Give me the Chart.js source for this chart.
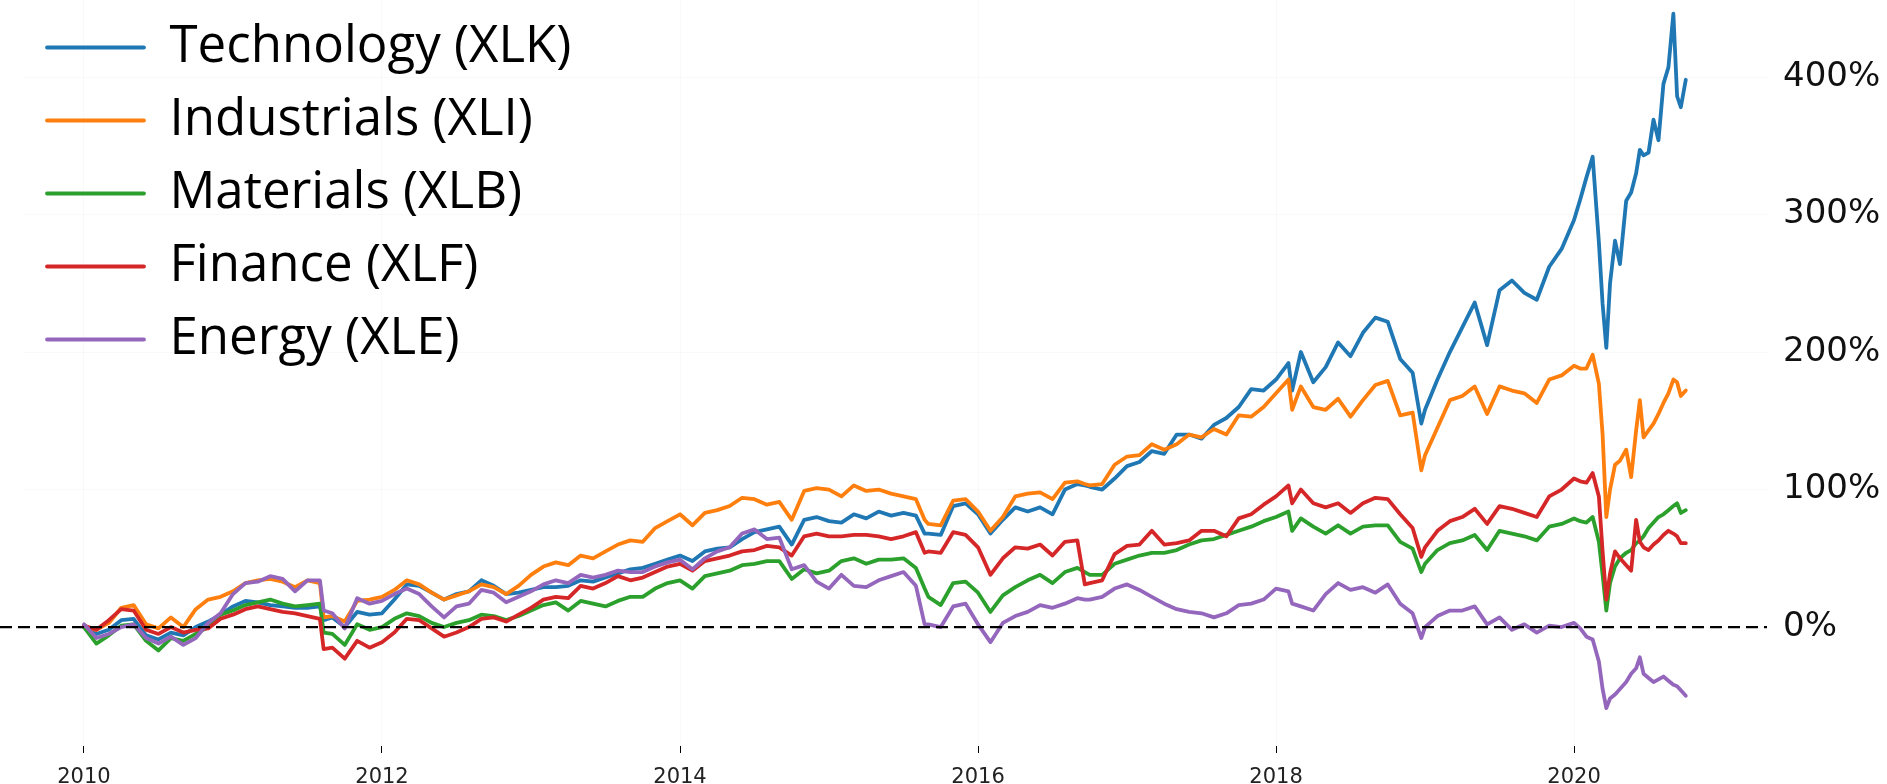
<!DOCTYPE html>
<html>
<head>
<meta charset="utf-8">
<title>Sector ETF cumulative returns</title>
<script src="https://cdn.jsdelivr.net/npm/chart.js@4.4.1/dist/chart.umd.min.js"></script>
<style>
  html, body { margin: 0; padding: 0; background: #fff; }
  #wrap { width: 1887px; height: 784px; }
</style>
</head>
<body>
<div id="wrap"><canvas id="chart" width="1887" height="784"></canvas></div>
<script>
// months since Jan 2010 (extra points sit on the sharp moves)
const months = [
  0, 1, 2, 3, 4, 5, 6, 7, 8, 9, 10, 11,
  12, 13, 14, 15, 16, 17, 18, 19, 19.3, 20, 21, 22, 23,
  24, 25, 26, 27, 28, 29, 30, 31, 32, 33, 34, 35,
  36, 37, 38, 39, 40, 41, 42, 43, 44, 45, 46, 47,
  48, 49, 50, 51, 52, 53, 54, 55, 56, 57, 58, 59,
  60, 61, 62, 63, 64, 65, 66, 67, 67.7, 68, 69, 70, 71,
  72, 73, 74, 75, 76, 77, 78, 79, 80, 80.6, 81, 82, 83,
  84, 85, 86, 87, 88, 89, 90, 91, 92, 93, 94, 95,
  96, 97, 97.3, 98, 99, 100, 101, 102, 103, 104, 105, 106, 107, 107.7,
  108, 109, 110, 111, 112, 113, 114, 115, 116, 117, 118, 119,
  120, 120.5, 121, 121.5, 122, 122.3, 122.6, 122.9, 123.3, 123.7, 124.2, 124.6,
  125, 125.3, 125.6, 126, 126.4, 126.8, 127.2, 127.6, 128, 128.3, 128.6, 129
];

const names = ['Technology (XLK)', 'Industrials (XLI)', 'Materials (XLB)', 'Finance (XLF)', 'Energy (XLE)'];
const colors = ['#1f77b4', '#ff7f0e', '#2ca02c', '#d62728', '#9467bd'];

// cumulative return in %, one row per year
const xlk = [
  0, -5, -2, 5, 6, -6, -9, -4, -6, 0, 4, 9,
  15, 19, 18, 16, 15, 14, 14, 15, 5, 7, 0, 11, 9,
  10, 20, 31, 30, 25, 20, 24, 26, 34, 30, 24, 25,
  27, 29, 29, 30, 34, 33, 36, 39, 42, 43, 46, 49,
  52, 48, 55, 57, 58, 64, 69, 71, 73, 60, 78, 80,
  77, 76, 82, 79, 84, 81, 83, 81, 68, 68, 67, 88, 90,
  82, 68, 78, 87, 84, 87, 82, 100, 104, 103, 102, 100, 108,
  117, 120, 128, 126, 140, 140, 137, 147, 152, 160, 173, 172,
  180, 192, 172, 200, 178, 189, 207, 197, 214, 225, 222, 195, 185, 148,
  158, 180, 200, 218, 236, 205, 245, 252, 243, 238, 262, 275,
  296, 311, 327, 342, 280, 235, 203, 250, 281, 264, 310, 316,
  330, 347, 343, 345, 369, 354, 395, 407, 446, 386, 378, 398
];
const xli = [
  0, -2, 3, 14, 16, 2, -1, 7, 0, 13, 20, 22,
  26, 32, 34, 35, 33, 29, 34, 32, 7, 8, 4, 19, 20,
  22, 27, 34, 31, 25, 20, 23, 26, 31, 29, 24, 30,
  38, 44, 47, 45, 52, 50, 55, 60, 63, 62, 72, 77,
  82, 74, 83, 85, 88, 94, 93, 89, 91, 78, 99, 101,
  100, 95, 103, 99, 100, 97, 95, 93, 78, 75, 74, 92, 93,
  84, 70, 80, 95, 97, 98, 93, 105, 106, 104, 103, 104, 118,
  124, 125, 133, 129, 133, 140, 138, 144, 140, 154, 153, 160,
  170, 180, 158, 175, 160, 158, 166, 153, 165, 176, 179, 154, 156, 114,
  125, 145, 165, 168, 175, 155, 175, 172, 170, 163, 180, 183,
  190, 188, 188, 198, 177, 140, 80, 100, 118, 121, 129, 109,
  143, 165, 138, 143, 148, 155, 163, 170, 180, 178, 168, 172
];
const xlb = [
  0, -12, -6, 1, 2, -10, -17, -8, -10, -5, 0, 9,
  12, 16, 18, 20, 17, 15, 16, 17, -4, -5, -13, 2, -2,
  0, 6, 10, 8, 3, 0, 3, 5, 9, 8, 5, 8,
  12, 16, 18, 12, 19, 17, 15, 19, 22, 22, 28, 32,
  34, 28, 37, 39, 41, 45, 46, 48, 48, 35, 42, 39,
  41, 48, 50, 46, 49, 49, 50, 43, 28, 22, 16, 32, 33,
  25, 11, 23, 29, 34, 38, 32, 40, 43, 40, 38, 38, 46,
  49, 52, 54, 54, 56, 60, 63, 64, 67, 70, 73, 77,
  80, 84, 70, 79, 73, 68, 74, 68, 73, 74, 74, 62, 57, 40,
  46, 56, 61, 63, 67, 56, 70, 68, 66, 63, 73, 75,
  79, 77, 76, 80, 62, 38, 12, 32, 44, 50, 54, 56,
  61, 63, 66, 72, 76, 80, 82, 85, 88, 90, 83, 85
];
const xlf = [
  1, -2, 5, 13, 12, -2, -5, 0, -4, -2, -1, 6,
  9, 13, 15, 13, 11, 10, 8, 6, -16, -15, -23, -10, -15,
  -11, -4, 6, 5, -1, -7, -4, 0, 6, 7, 4, 9,
  14, 20, 22, 21, 30, 28, 32, 37, 34, 36, 40, 44,
  46, 41, 48, 50, 52, 55, 56, 59, 58, 52, 66, 68,
  66, 66, 67, 67, 66, 64, 66, 69, 54, 55, 54, 69, 67,
  58, 38, 50, 58, 57, 60, 52, 62, 63, 31, 32, 34, 53,
  59, 60, 70, 60, 61, 63, 70, 70, 66, 79, 82, 89,
  95, 103, 90, 100, 90, 87, 90, 83, 90, 94, 93, 82, 72, 51,
  58, 70, 77, 80, 86, 75, 88, 86, 83, 80, 95, 100,
  108, 106, 105, 112, 95, 55, 20, 39, 55, 50, 45, 41,
  78, 62, 58, 56, 60, 63, 67, 70, 68, 66, 61, 61
];
const xle = [
  2, -8, -5, 0, 2, -8, -12, -7, -13, -8, 3, 10,
  24, 32, 33, 37, 35, 26, 34, 34, 12, 10, -1, 21, 17,
  19, 24, 28, 24, 15, 7, 15, 17, 27, 25, 18, 22,
  26, 31, 34, 32, 38, 36, 38, 41, 40, 40, 44, 47,
  49, 42, 50, 55, 58, 68, 71, 64, 65, 42, 45, 33,
  28, 38, 30, 29, 34, 37, 40, 30, 2, 2, 0, 15, 17,
  2, -11, 3, 8, 11, 16, 14, 17, 21, 20, 20, 22, 28,
  31, 27, 22, 17, 13, 11, 10, 7, 10, 16, 17, 20,
  28, 26, 17, 15, 12, 24, 32, 27, 29, 25, 31, 17, 10, -8,
  0, 8, 12, 12, 15, 2, 7, -2, 2, -4, 1, 0,
  3, -1, -7, -9, -25, -45, -59, -52, -49, -45, -40, -34,
  -30, -22, -34, -37, -40, -38, -36, -39, -42, -43, -46, -50
];

const series = [xlk, xli, xlb, xlf, xle];
const yTicks = [0, 100, 200, 300, 400];

// dashed 0% reference line across the full width
const zeroLine = {
  id: 'zeroLine',
  afterDatasetsDraw(chart) {
    const { ctx, chartArea, scales } = chart;
    const y = scales.y.getPixelForValue(0);
    ctx.save();
    ctx.strokeStyle = '#000';
    ctx.lineWidth = 2.2;
    ctx.setLineDash([12, 6]);
    ctx.beginPath();
    ctx.moveTo(0, y);
    ctx.lineTo(chartArea.right, y);
    ctx.stroke();
    ctx.restore();
  }
};

new Chart(document.getElementById('chart').getContext('2d'), {
  type: 'line',
  data: {
    datasets: series.map((vals, i) => ({
      label: names[i],
      data: vals.map((v, j) => ({ x: months[j], y: v })),
      borderColor: colors[i],
      backgroundColor: colors[i],
      borderWidth: 3.8,
      order: series.length - i
    }))
  },
  options: {
    responsive: false,
    animation: false,
    devicePixelRatio: 1,
    layout: { padding: { left: 25, right: 0, top: 0, bottom: 0 } },
    elements: {
      point: { radius: 0 },
      line: { tension: 0, borderJoinStyle: 'round', borderCapStyle: 'round' }
    },
    plugins: {
      legend: {
        position: 'chartArea',
        align: 'start',
        labels: {
          boxWidth: 97,
          boxHeight: 0,
          padding: 22,
          color: '#000',
          font: { family: "'Open Sans'", size: 51 },
          sort: (a, b) => a.datasetIndex - b.datasetIndex
        }
      },
      tooltip: { enabled: false }
    },
    scales: {
      x: {
        type: 'linear',
        min: -4.75,
        max: 135.54,
        border: { display: false },
        grid: { color: 'rgba(0,0,0,0.025)', tickLength: 7, tickColor: '#000', tickWidth: 1 },
        afterFit: scale => { scale.height = 38; scale.paddingLeft = 0; scale.paddingRight = 0; },
        ticks: {
          stepSize: 24,
          includeBounds: false,
          autoSkip: false,
          maxRotation: 0,
          padding: 12,
          color: '#222',
          font: { family: "'DejaVu Sans'", size: 21 },
          callback: v => String(2010 + v / 12)
        }
      },
      y: {
        position: 'right',
        min: -86.5,
        max: 456,
        border: { display: false },
        grid: { color: 'rgba(0,0,0,0.025)', drawTicks: false },
        afterBuildTicks: scale => { scale.ticks = yTicks.map(v => ({ value: v })); },
        afterFit: scale => { scale.width = 120; scale.paddingTop = 0; scale.paddingBottom = 0; },
        ticks: {
          padding: 16,
          color: '#111',
          font: { family: "'DejaVu Sans'", size: 34 },
          callback: v => v + '%'
        }
      }
    }
  },
  plugins: [zeroLine]
});
</script>
</body>
</html>
